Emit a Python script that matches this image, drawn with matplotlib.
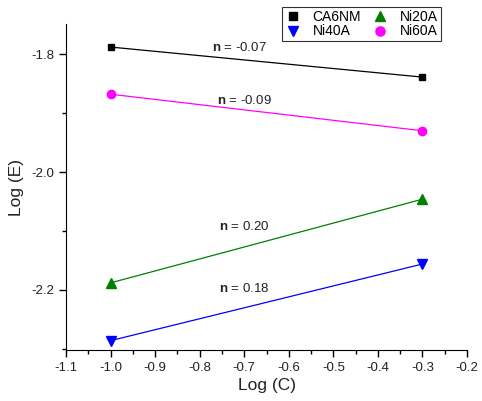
import matplotlib
matplotlib.use("Agg")
import matplotlib.pyplot as plt
from matplotlib.ticker import MultipleLocator

plt.rcParams['font.family'] = ['Liberation Sans', 'DejaVu Sans']
plt.rcParams['mathtext.fontset'] = 'custom'
plt.rcParams['mathtext.rm'] = 'Liberation Sans'
plt.rcParams['mathtext.bf'] = 'Liberation Sans:bold'

log_c = [-1.0, -0.3]
ca6nm = [-1.788, -1.839]
ni60a = [-1.868, -1.930]
ni20a = [-2.188, -2.046]
ni40a = [-2.286, -2.156]
slopes = ["-0.07", "-0.09", "0.20", "0.18"]
label_pos = [(-0.71, -1.788), (-0.70, -1.878), (-0.70, -2.093), (-0.70, -2.197)]

fig = plt.figure(figsize=(4.82, 4.01), dpi=100)
ax = fig.add_axes([0.137, 0.127, 0.832, 0.813])

h1, = ax.plot(log_c, ca6nm, color='black', marker='s', ms=5, lw=0.9, label='CA6NM')
h4, = ax.plot(log_c, ni60a, color='#ff00ff', marker='o', ms=6, lw=0.9, label='Ni60A')
h2, = ax.plot(log_c, ni20a, color='#008000', marker='^', ms=6.5, lw=0.9, label='Ni20A')
h3, = ax.plot(log_c, ni40a, color='#0000ff', marker='v', ms=6.5, lw=0.9, label='Ni40A')

for s, (x, y) in zip(slopes, label_pos):
    ax.text(x, y, r'$\mathbf{n}$' + ' = ' + s, ha='center', va='center', fontsize=9.5, color='#222222')

ax.set_xlim(-1.1, -0.2)
ax.set_ylim(-2.302, -1.749)
ax.xaxis.set_minor_locator(MultipleLocator(0.05))
ax.yaxis.set_minor_locator(MultipleLocator(0.1))
xt = [-1.1, -1.0, -0.9, -0.8, -0.7, -0.6, -0.5, -0.4, -0.3, -0.2]
ax.set_xticks(xt)
ax.set_xticklabels([f"{v:.1f}" for v in xt])
yt = [-2.2, -2.0, -1.8]
ax.set_yticks(yt)
ax.set_yticklabels([f"{v:.1f}" for v in yt])
ax.tick_params(axis='both', which='major', direction='out', length=5, width=1, labelsize=9.5, colors='black', labelcolor='#222222')
ax.tick_params(axis='both', which='minor', direction='out', length=3, width=1)

ax.spines['top'].set_visible(False)
ax.spines['right'].set_visible(False)

ax.set_xlabel('Log (C)', fontsize=12.5, color='#222222', labelpad=3)
ax.set_ylabel('Log (E)', fontsize=12.5, color='#222222', labelpad=5)

leg = fig.legend(handles=[h1, h3, h2, h4], labels=['CA6NM', 'Ni40A', 'Ni20A', 'Ni60A'],
                 ncol=2, loc='upper left', bbox_to_anchor=(282/482, 1 - 7/401),
                 fontsize=10, frameon=True, fancybox=False, edgecolor='#333333',
                 handlelength=1.2, handletextpad=0.8, columnspacing=0.8,
                 borderpad=0.2, labelspacing=0.05, borderaxespad=0, framealpha=1,
                 markerscale=1.1)
leg.get_frame().set_linewidth(0.8)
for lh in leg.legend_handles:
    lh.set_linestyle('none')

fig.savefig('out.png', dpi=100)
